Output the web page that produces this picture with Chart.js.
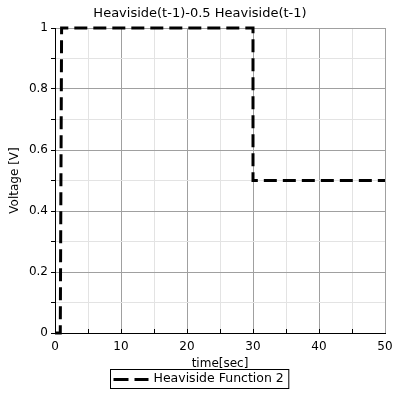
<!DOCTYPE html>
<html lang="en">
<head>
  <meta charset="UTF-8">
  <title>Heaviside Function 2</title>
  <script src="https://cdn.jsdelivr.net/npm/chart.js"></script>
  <style>
    * { margin: 0; padding: 0; }
    body { background: #fff; }
    #wrap { width: 400px; height: 400px; position: relative; }
  </style>
</head>
<body>
  <div id="wrap"><canvas id="chart"></canvas></div>
  <script>
    // data
    const chartTitle  = 'Heaviside(t-1)-0.5 Heaviside(t-1)';
    const seriesLabel = 'Heaviside Function 2';
    const timeVals    = [0, 0.8, 0.85, 1, 30, 30, 50];
    const voltVals    = [0, 0, 0.25, 1, 1, 0.5, 0.5];
    const xTitle      = 'time[sec]';
    const yTitle      = 'Voltage [V]';

    const FONT = 'DejaVu Sans';
    const MAJOR = '#a0a0a0', MINOR = '#e3e3e3';

    const points = timeVals.map((t, i) => ({ x: t, y: voltVals[i] }));

    // small inward tick marks on the time axis + boxed legend under the plot
    const extras = {
      id: 'extras',
      afterDraw(chart) {
        const c = chart.ctx, xs = chart.scales.x, area = chart.chartArea;
        c.save();
        c.strokeStyle = '#000';
        c.lineWidth = 1;
        for (let v = 5; v < 50; v += 5) {
          const px = Math.round(xs.getPixelForValue(v)) + 0.5;
          c.beginPath();
          c.moveTo(px, area.bottom);
          c.lineTo(px, area.bottom - 4);
          c.stroke();
        }
        // legend box
        c.font = '12.5px "' + FONT + '"';
        const tw = c.measureText(seriesLabel).width;
        const w = 3 + 35 + 5 + tw + 5, h = 19;
        const x0 = Math.round(199 - w / 2) + 0.5, y0 = 369.5;
        c.strokeRect(x0, y0, w, h);
        c.lineWidth = 3;
        c.setLineDash([15, 6]);
        c.beginPath();
        c.moveTo(x0 + 3, y0 + 10);
        c.lineTo(x0 + 38, y0 + 10);
        c.stroke();
        c.setLineDash([]);
        c.fillStyle = '#000';
        c.textBaseline = 'middle';
        c.textAlign = 'left';
        c.fillText(seriesLabel, x0 + 43, y0 + 9.5);
        c.restore();
      }
    };

    new Chart(document.getElementById('chart'), {
      type: 'line',
      data: {
        datasets: [{
          label: seriesLabel,
          data: points,
          borderColor: '#000',
          borderWidth: 3,
          borderDash: [13, 6],
          pointRadius: 0,
          tension: 0,
          fill: false,
          clip: false
        }]
      },
      options: {
        responsive: true,
        maintainAspectRatio: false,
        animation: false,
        layout: { padding: { top: 0, right: 0, bottom: 26, left: 0 } },
        plugins: {
          legend: { display: false },
          tooltip: { enabled: false },
          title: {
            display: true,
            text: chartTitle,
            color: '#000',
            font: { family: FONT, size: 13, weight: 'normal' },
            padding: { top: 6, bottom: 6.4 }
          }
        },
        scales: {
          x: {
            type: 'linear',
            min: 0, max: 50,
            afterFit: s => { s.height = 41; },
            border: { color: '#000', width: 1 },
            grid: {
              drawTicks: false,
              color: ctx => (Math.round(ctx.tick.value) % 10 === 0 ? MAJOR : MINOR)
            },
            ticks: {
              stepSize: 5,
              padding: 7,
              maxRotation: 0,
              autoSkip: false,
              color: '#000',
              font: { family: FONT, size: 12 },
              callback: v => (Math.round(v) % 10 === 0 ? String(v) : '')
            },
            title: {
              display: true,
              text: xTitle,
              color: '#000',
              font: { family: FONT, size: 12 },
              padding: { top: 0, bottom: 3 }
            }
          },
          y: {
            min: 0, max: 1,
            afterFit: s => { s.width = 55; },
            border: { color: '#000', width: 1 },
            grid: {
              tickLength: 4,
              tickColor: '#000',
              color: ctx => (Math.round(ctx.tick.value * 10) % 2 === 0 ? MAJOR : MINOR)
            },
            ticks: {
              stepSize: 0.1,
              padding: 3,
              autoSkip: false,
              color: '#000',
              font: { family: FONT, size: 12 },
              callback: v => {
                const r = Math.round(v * 10);
                return r % 2 === 0 ? String(r / 10) : '';
              }
            },
            title: {
              display: true,
              text: yTitle,
              color: '#000',
              font: { family: FONT, size: 12 },
              padding: { top: 8, bottom: 0 }
            }
          },
          // empty strip on the right so the plot ends at x=385 while the title stays centred
          yRight: {
            position: 'right',
            min: 0, max: 1,
            afterFit: s => { s.width = 15; },
            border: { display: false },
            grid: { display: false, drawOnChartArea: false },
            ticks: { display: false }
          }
        }
      },
      plugins: [extras]
    });
  </script>
</body>
</html>
